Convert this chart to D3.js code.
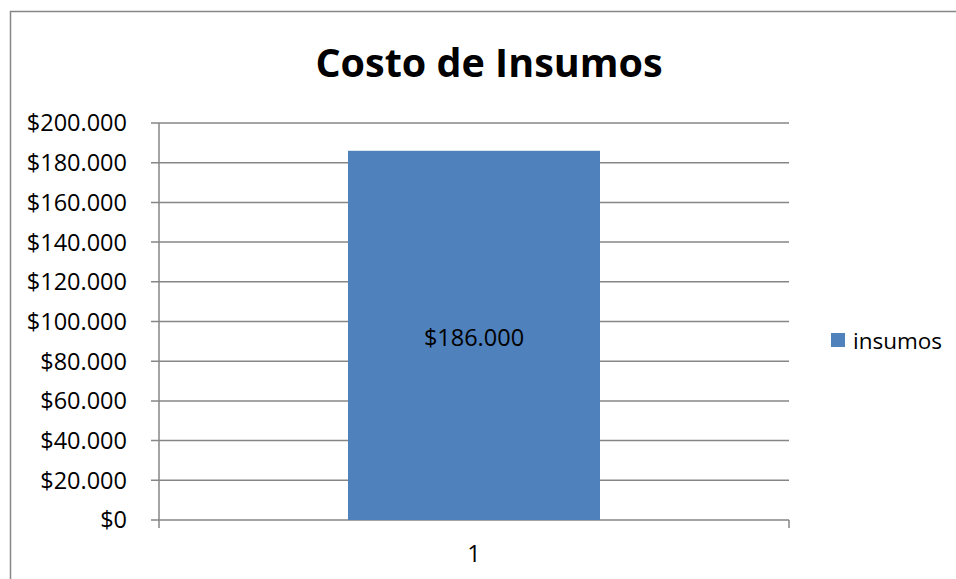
<!DOCTYPE html>
<html>
<head>
<meta charset="utf-8">
<script src="https://cdn.jsdelivr.net/npm/d3@7"></script>
<style>
  body { margin: 0; background: #fff; }
  svg { display: block; font-family: "Open Sans", sans-serif; }
</style>
</head>
<body>
<script>
let categories = ["1"];
let seriesName = "insumos";
let values = [186000];
let yTicks = [0, 20000, 40000, 60000, 80000, 100000, 120000, 140000, 160000, 180000, 200000];

let width = 956, height = 579;
let svg = d3.select("body").append("svg").attr("width", width).attr("height", height);

// outer chart frame (right and bottom run off the picture)
svg.append("rect").attr("x", 10.5).attr("y", 11.5).attr("width", 960).attr("height", 600)
    .attr("fill", "#fff").attr("stroke", "#868686").attr("stroke-width", 1.5);

let plot = {left: 159, right: 789, top: 123, bottom: 520};

let x = d3.scaleBand().domain(categories).range([plot.left, plot.right]).paddingInner(0.6).paddingOuter(0.3);
let y = d3.scaleLinear().domain([0, 200000]).range([plot.bottom, plot.top]);

let fmt = v => "$" + d3.format(",")(v).replace(/,/g, ".");

// gridlines
svg.append("g").selectAll("line").data(yTicks).join("line")
    .attr("x1", plot.left - 8).attr("x2", plot.right)
    .attr("y1", d => y(d)).attr("y2", d => y(d))
    .attr("stroke", "#868686").attr("stroke-width", 1.5);

// y axis labels
svg.append("g").selectAll("text").data(yTicks).join("text")
    .attr("x", 127).attr("y", d => y(d)).attr("dy", "0.36em")
    .attr("text-anchor", "end").attr("font-size", 23.5).attr("fill", "#000")
    .text(fmt);

// bars
svg.append("g").selectAll("rect").data(values).join("rect")
    .attr("x", (d, i) => x(categories[i])).attr("width", x.bandwidth())
    .attr("y", d => y(d)).attr("height", d => y(0) - y(d))
    .attr("fill", "#4F81BD");

// data labels
svg.append("g").selectAll("text").data(values).join("text")
    .attr("x", (d, i) => x(categories[i]) + x.bandwidth() / 2)
    .attr("y", d => (y(d) + y(0)) / 2 + 2).attr("dy", "0.36em")
    .attr("text-anchor", "middle").attr("font-size", 23.5).attr("fill", "#000")
    .text(fmt);

// axes lines
svg.append("line").attr("x1", plot.left).attr("x2", plot.left).attr("y1", plot.top).attr("y2", plot.bottom + 8)
    .attr("stroke", "#868686").attr("stroke-width", 1.5);
svg.append("line").attr("x1", plot.right).attr("x2", plot.right).attr("y1", plot.bottom).attr("y2", plot.bottom + 8)
    .attr("stroke", "#868686").attr("stroke-width", 1.5);

// category labels
svg.append("g").selectAll("text").data(categories).join("text")
    .attr("x", d => x(d) + x.bandwidth() / 2).attr("y", 562)
    .attr("text-anchor", "middle").attr("font-size", 23.5).attr("fill", "#000")
    .text(d => d);

// title
svg.append("text").attr("x", 489).attr("y", 77).attr("text-anchor", "middle")
    .attr("font-size", 39.5).attr("font-weight", "bold").attr("fill", "#000")
    .text("Costo de Insumos");

// legend
svg.append("rect").attr("x", 831).attr("y", 333).attr("width", 14).attr("height", 14).attr("fill", "#4F81BD");
svg.append("text").attr("x", 853).attr("y", 341).attr("dy", "0.36em").attr("font-size", 22.5).attr("fill", "#000")
    .text(seriesName);
</script>
</body>
</html>
